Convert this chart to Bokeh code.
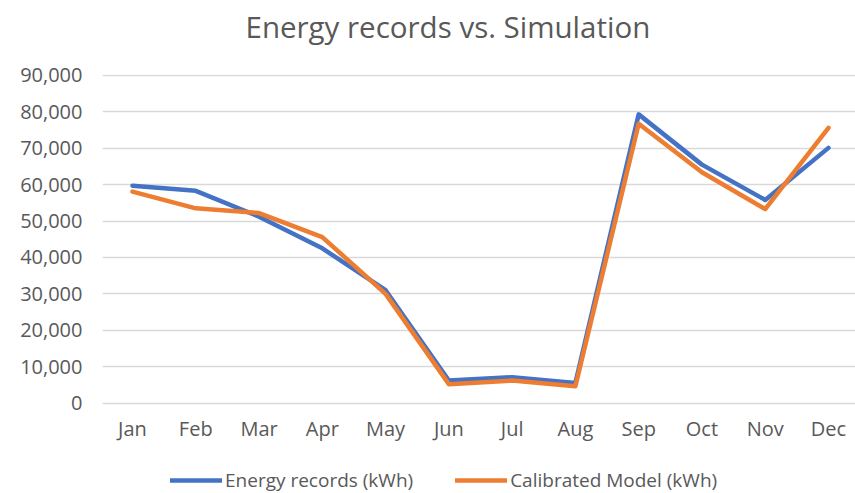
from bokeh.plotting import figure
from bokeh.models import (Range1d, FixedTicker, NumeralTickFormatter, Legend,
                          LegendItem, ColumnDataSource, Title)
from bokeh.embed import file_html
from bokeh.resources import INLINE

months = ["Jan", "Feb", "Mar", "Apr", "May", "Jun",
          "Jul", "Aug", "Sep", "Oct", "Nov", "Dec"]
energy_records = [59700, 58300, 51200, 42500, 31000, 6200,
                  7100, 5500, 79300, 65500, 55800, 70100]
calibrated_model = [58100, 53500, 52200, 45600, 30000, 5200,
                    6200, 4600, 76700, 63400, 53300, 75600]
y_ticks = [0, 10000, 20000, 30000, 40000, 50000, 60000, 70000, 80000, 90000]
chart_title = "Energy records vs. Simulation"

idx = list(range(len(months)))
src = ColumnDataSource(dict(x=idx, rec=energy_records, mod=calibrated_model))

TXT = "#595959"
FONT = "Open Sans"

# frame spans the full height below the title; the x axis sits at y=0
p = figure(width=855, height=493, output_backend="svg", toolbar_location=None,
           x_range=Range1d(-0.474, 11.427), y_range=Range1d(-24830, 90250),
           min_border_left=102, min_border_right=0, min_border_top=74,
           min_border_bottom=0)

# main title (outermost)
p.title.text = chart_title
p.title.text_font = FONT
p.title.text_font_size = "29.5px"
p.title.text_font_style = "normal"
p.title.text_color = TXT
p.title.align = "left"
p.title.offset = 143
p.title.standoff = 2

# blank spacer between title and plot area
spacer = Title(text=" ", text_font_size="10px", standoff=14)
p.add_layout(spacer, "above")

p.outline_line_color = None
p.background_fill_color = "white"
p.border_fill_color = "white"

# y axis
p.yaxis.ticker = FixedTicker(ticks=y_ticks)
p.yaxis.formatter = NumeralTickFormatter(format="0,0")
p.yaxis.axis_line_color = None
p.yaxis.major_tick_line_color = None
p.yaxis.minor_tick_line_color = None
p.yaxis.major_tick_out = 0
p.yaxis.major_tick_in = 0
p.yaxis.major_label_standoff = 20
p.yaxis.major_label_text_font = FONT
p.yaxis.major_label_text_font_size = "20px"
p.yaxis.major_label_text_color = TXT

# x axis
p.xaxis.ticker = FixedTicker(ticks=idx)
p.xaxis.fixed_location = 0
p.xaxis.major_label_overrides = {i: m for i, m in enumerate(months)}
p.xaxis.axis_line_color = None
p.xaxis.major_tick_line_color = None
p.xaxis.minor_tick_line_color = None
p.xaxis.major_tick_out = 0
p.xaxis.major_tick_in = 0
p.xaxis.major_label_standoff = 12
p.xaxis.major_label_text_font = FONT
p.xaxis.major_label_text_font_size = "20px"
p.xaxis.major_label_text_color = TXT

p.xgrid.grid_line_color = None
p.ygrid.ticker = FixedTicker(ticks=y_ticks)
p.ygrid.grid_line_color = "#D9D9D9"
p.ygrid.grid_line_width = 1.3

r1 = p.line("x", "rec", source=src, line_color="#4472C4", line_width=4.5,
            line_join="round", line_cap="round")
r2 = p.line("x", "mod", source=src, line_color="#ED7D31", line_width=4.5,
            line_join="round", line_cap="round")

legend = Legend(items=[LegendItem(label="Energy records (kWh)", renderers=[r1]),
                       LegendItem(label="Calibrated Model (kWh)", renderers=[r2])],
                location=(68, 0), orientation="horizontal",
                glyph_width=52, glyph_height=20, label_standoff=3, spacing=42,
                padding=0, margin=0, border_line_color=None,
                background_fill_alpha=0,
                label_text_font=FONT, label_text_font_size="19px",
                label_text_color=TXT)
p.add_layout(legend, "center")

open("out.html", "w").write(file_html(p, INLINE))
